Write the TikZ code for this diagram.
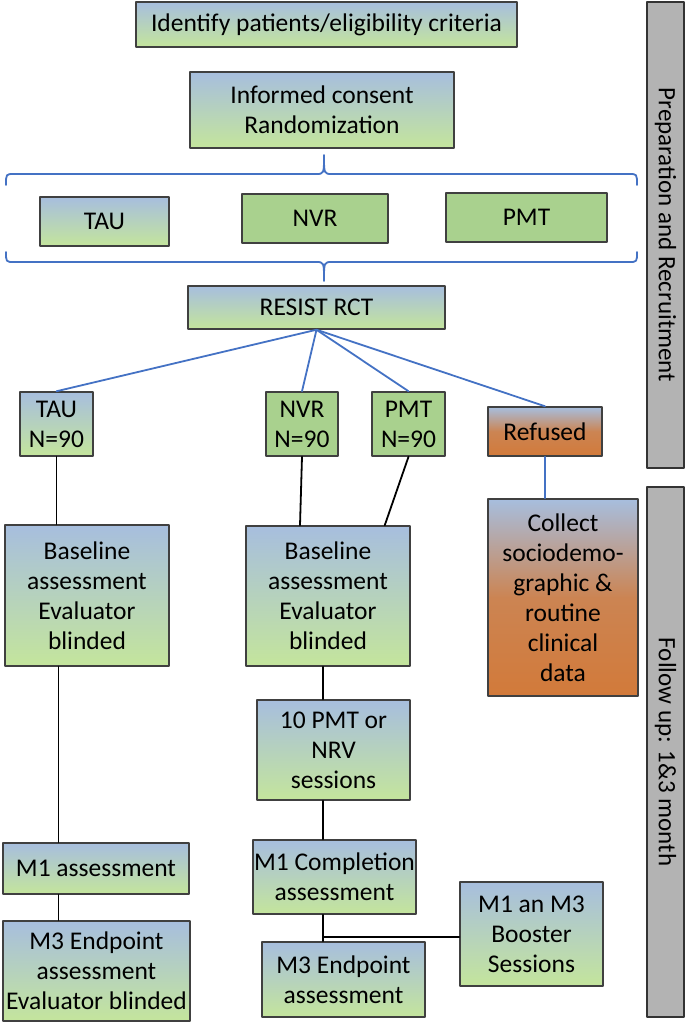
\documentclass[tikz,border=0pt]{standalone}
\usepackage{fontspec}
\setmainfont{Carlito}
\definecolor{topblue}{HTML}{A7BEDE}
\definecolor{lowgreen}{HTML}{C4E59C}
\definecolor{midgreen}{HTML}{A9D18E}
\definecolor{rustorange}{HTML}{D27A3A}
\definecolor{linkblue}{HTML}{4472C4}
\definecolor{bargrey}{HTML}{B3B3B3}
\begin{document}
\begin{tikzpicture}[x=1pt, y=-1pt, line join=round, line cap=round,
  font=\fontsize{25.5}{30}\selectfont,
  frame/.style={draw=black!75, line width=1.5pt, align=center, inner sep=0pt},
  box/.style={frame, top color=topblue, bottom color=lowgreen},
  flatbox/.style={frame, fill=midgreen},
  refbox/.style={frame, top color=topblue, bottom color=rustorange, middle color=rustorange!85!topblue},
  sidebar/.style={draw=black!80, line width=1.5pt, fill=bargrey, inner sep=0pt, rotate=-90, font=\fontsize{25}{30}\selectfont},
  link/.style={draw=linkblue, line width=1.8pt},
  wire/.style={draw=black, line width=1.8pt}]
  \useasboundingbox (0,0) rectangle (685,1022);
  % preparation
  \node[box, minimum width=381pt, minimum height=45pt] (ident) at (326.5,24.5) {Identify patients/eligibility criteria};
  \node[box, minimum width=264pt, minimum height=76pt] (consent) at (322,110) {Informed consent\\Randomization};
  \node[box, minimum width=129pt, minimum height=49pt] (tauA) at (104.5,221.5) {TAU};
  \node[flatbox, minimum width=146pt, minimum height=49pt] (nvrA) at (315,218.5) {NVR};
  \node[flatbox, minimum width=161pt, minimum height=49pt] (pmtA) at (526.5,217.5) {PMT};
  \draw[link] (6,185) .. controls (6,174) .. (14,174) -- (316,174) .. controls (324,174) .. (324,155)
    .. controls (324,174) .. (332,174) -- (629,174) .. controls (637,174) .. (637,185);
  \draw[link] (6,252) .. controls (6,262) .. (14,262) -- (316,262) .. controls (324,262) .. (324,281)
    .. controls (324,262) .. (332,262) -- (629,262) .. controls (637,262) .. (637,252);
  \node[box, minimum width=257pt, minimum height=43pt] (rct) at (316.5,307.5) {RESIST RCT};
  % arms
  \node[box, minimum width=73pt, minimum height=64pt] (tauB) at (56.5,424) {TAU\\N=90};
  \node[flatbox, minimum width=72pt, minimum height=64pt] (nvrB) at (302,424) {NVR\\N=90};
  \node[flatbox, minimum width=73pt, minimum height=64pt] (pmtB) at (408.5,424) {PMT\\N=90};
  \node[refbox, minimum width=114pt, minimum height=49pt] (refused) at (545,431.5) {Refused};
  \foreach \arm in {tauB,nvrB,pmtB,refused}
    \draw[link] (rct.south) -- (\arm.north);
  % follow up
  \node[box, minimum width=164pt, minimum height=141pt] (baseA) at (87,595.5) {Baseline\\assessment\\Evaluator\\blinded};
  \node[box, minimum width=164pt, minimum height=140pt] (baseB) at (328,596) {Baseline\\assessment\\Evaluator\\blinded};
  \node[refbox, minimum width=150pt, minimum height=197pt] (collect) at (563,597.5) {Collect\\sociodemo-\\graphic \&\\routine\\clinical\\data};
  \node[box, minimum width=153pt, minimum height=100pt] (sess) at (333.5,750) {10 PMT or\\NRV\\sessions};
  \node[box, minimum width=186pt, minimum height=51pt] (mOneA) at (96,868.5) {M1 assessment};
  \node[box, minimum width=187pt, minimum height=100pt] (mThreeA) at (96.5,971) {M3 Endpoint\\assessment\\Evaluator blinded};
  \node[box, minimum width=163pt, minimum height=74pt] (mOneB) at (334.5,877) {M1 Completion\\assessment};
  \node[box, minimum width=163pt, minimum height=75pt] (mThreeB) at (343.5,979.5) {M3 Endpoint\\assessment};
  \node[box, minimum width=143pt, minimum height=104pt] (boost) at (531.5,934) {M1 an M3\\Booster\\Sessions};
  \coordinate (spine) at (323,0);
  \draw[wire] (tauB.south) -- (tauB.south |- baseA.north);
  \draw[wire] (nvrB.south) -- ([xshift=-2pt]nvrB.south |- baseB.north);
  \draw[wire] (pmtB.south) -- ([xshift=-26pt]baseB.north east);
  \draw[link] (refused.south) -- (refused.south |- collect.north);
  \draw[wire] ([xshift=2pt]tauB.south |- baseA.south) -- ([xshift=2pt]tauB.south |- mOneA.north);
  \draw[wire] ([xshift=2pt]tauB.south |- mOneA.south) -- ([xshift=2pt]tauB.south |- mThreeA.north);
  \draw[wire] (spine |- baseB.south) -- (spine |- sess.north);
  \draw[wire] (spine |- sess.south) -- (spine |- mOneB.north);
  \draw[wire] (spine |- mOneB.south) -- (spine |- mThreeB.north);
  \draw[wire] ([yshift=-3pt]boost.west) -- ([yshift=-3pt]spine |- boost.west);
  % phases
  \node[sidebar, minimum width=466pt, minimum height=37pt] (prep) at (665.5,235) {Preparation and Recruitment};
  \node[sidebar, minimum width=530pt, minimum height=37pt] (follow) at (665.5,752) {Follow up: 1\&3 month};
\end{tikzpicture}
\end{document}
